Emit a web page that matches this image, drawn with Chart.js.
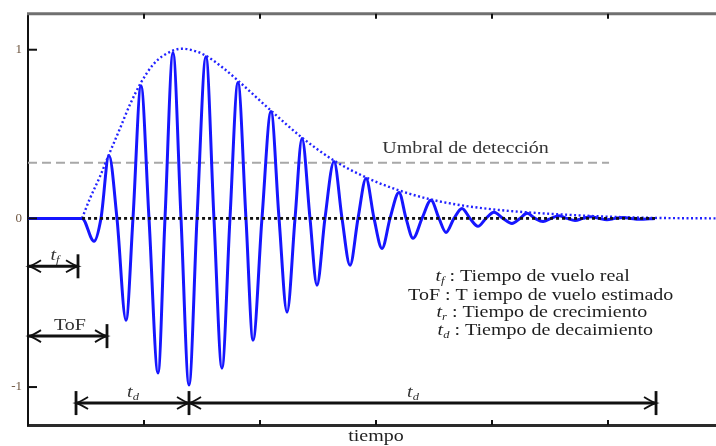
<!DOCTYPE html>
<html>
<head>
<meta charset="utf-8">
<script src="https://cdn.jsdelivr.net/npm/chart.js@4.4.1/dist/chart.umd.min.js"></script>
<style>
html, body { margin: 0; padding: 0; background: #fff; overflow: hidden; }
#wrap { width: 716px; height: 446px; }
</style>
</head>
<body>
<div id="wrap"><canvas id="c" width="716" height="446"></canvas></div>
<script>
// tiempo en divisiones del eje x, amplitud normalizada
const signalX = [0, 0.466, 0.569, 0.629, 0.698, 0.767, 0.845, 0.905, 0.974, 1.043, 1.121, 1.181, 1.250, 1.319, 1.388, 1.457,
    1.534, 1.603, 1.672, 1.741, 1.810, 1.879, 1.940, 2.017, 2.095, 2.164, 2.233, 2.302, 2.362, 2.431, 2.491, 2.560,
    2.638, 2.707, 2.776, 2.845, 2.914, 2.983, 3.052, 3.121, 3.198, 3.259, 3.319, 3.397, 3.474, 3.543, 3.603, 3.672,
    3.741, 3.810, 3.879, 3.948, 4.017, 4.095, 4.172, 4.241, 4.302, 4.371, 4.440, 4.509, 4.578, 4.647, 4.716, 4.784,
    4.853, 4.922, 4.991, 5.060, 5.129, 5.198, 5.267, 5.405];
const signalY = [0, 0, -0.136, 0, 0.373, 0, -0.604, 0, 0.787, 0, -0.917, 0, 0.982, 0, -0.988, 0,
    0.959, 0, -0.888, 0, 0.805, 0, -0.722, 0, 0.633, 0, -0.556, 0, 0.473, 0, -0.396, 0,
    0.337, 0, -0.278, 0, 0.237, 0, -0.178, 0, 0.154, 0, -0.118, 0, 0.107, 0, -0.083, 0,
    0.059, 0, -0.047, 0, 0.036, 0, -0.030, 0, 0.030, 0, -0.018, 0, 0.015, 0, -0.012, 0,
    0.010, 0, -0.008, 0, 0.006, 0, -0.005, 0];

const envelopeX = [0.466, 0.534, 0.621, 0.698, 0.793, 0.879, 0.974, 1.078, 1.164, 1.328, 1.457, 1.534, 1.681, 1.810,
    2.095, 2.362, 2.638, 2.914, 3.198, 3.474, 3.741, 4.017, 4.302, 4.586, 4.931, 5.388, 5.931];
const envelopeY = [0, 0.118, 0.249, 0.379, 0.533, 0.675, 0.805, 0.911, 0.964, 1.006, 0.988, 0.964, 0.893, 0.817,
    0.639, 0.479, 0.343, 0.243, 0.166, 0.112, 0.077, 0.053, 0.036, 0.024, 0.012, 0.003, 0];

const zeroLineX = [0.466, 5.405];
const zeroLineY = [0, 0];
const thresholdX = [0, 5.009];
const thresholdY = [0.33, 0.33];

const xTickValues = [1, 2, 3, 4, 5];
const yTickValues = [-1, 0, 1];

const pairs = (xs, ys) => xs.map((v, i) => ({ x: v, y: ys[i] }));

// cotas y textos, en coordenadas de datos
const dims = [
    { sub: 'f', from: 0, to: 0.431, at: -0.284, bars: [0.431], labelX: 0.233 },
    { text: 'ToF', from: 0, to: 0.681, at: -0.698, bars: [0.681], labelX: 0.362 },
    { sub: 'd', from: 0.414, to: 1.388, at: -1.095, bars: [0.414, 1.388], labelX: 0.905 },
    { sub: 'd', from: 1.388, to: 5.414, at: -1.095, bars: [5.414], labelX: 3.319 }
];
const legendLines = [
    { sub: 'f', rest: ' : Tiempo de vuelo real', x: 4.35, y: -0.349 },
    { text: 'ToF : T iempo de vuelo estimado', x: 4.42, y: -0.456 },
    { sub: 'r', rest: ' : Tiempo de crecimiento', x: 4.43, y: -0.562 },
    { sub: 'd', rest: ' : Tiempo de decaimiento', x: 4.46, y: -0.669 }
];

const SERIF = '"Liberation Serif", "Times New Roman", serif';
const STRETCH = 1.25;

function drawRuns(ctx, runs, cx, cy, color) {
    let w = 0;
    runs.forEach(r => { ctx.font = r.font; r.w = ctx.measureText(r.text).width; w += r.w; });
    ctx.save();
    ctx.translate(cx, cy);
    ctx.scale(STRETCH, 1);
    ctx.fillStyle = color;
    ctx.textBaseline = 'middle';
    ctx.textAlign = 'left';
    let xx = -w / 2;
    runs.forEach(r => { ctx.font = r.font; ctx.fillText(r.text, xx, r.dy || 0); xx += r.w; });
    ctx.restore();
}

function symbolRuns(sub) {
    return [
        { text: 't', font: 'italic 16px ' + SERIF },
        { text: sub, font: 'italic 10px ' + SERIF, dy: 4 }
    ];
}

function arrowHead(ctx, xp, yp, dir) {
    ctx.beginPath();
    ctx.moveTo(xp - dir * 12, yp - 6);
    ctx.quadraticCurveTo(xp - dir * 4, yp - 1, xp, yp);
    ctx.quadraticCurveTo(xp - dir * 4, yp + 1, xp - dir * 12, yp + 6);
    ctx.stroke();
}

const annotate = {
    id: 'annotate',
    afterDatasetsDraw(chart) {
        const { ctx, chartArea: a, scales: { x, y } } = chart;
        ctx.save();
        ctx.strokeStyle = '#111';
        ctx.lineCap = 'butt';

        dims.forEach(d => {
            const x1 = Math.max(x.getPixelForValue(d.from), a.left + 1);
            const x2 = x.getPixelForValue(d.to);
            const yp = y.getPixelForValue(d.at);
            ctx.lineWidth = 3;
            ctx.beginPath();
            ctx.moveTo(x1, yp);
            ctx.lineTo(x2, yp);
            ctx.stroke();
            ctx.lineWidth = 1.8;
            arrowHead(ctx, x1, yp, -1);
            arrowHead(ctx, x2, yp, 1);
            ctx.lineWidth = 2.8;
            d.bars.forEach(b => {
                const bp = x.getPixelForValue(b);
                ctx.beginPath();
                ctx.moveTo(bp, yp - 12);
                ctx.lineTo(bp, yp + 12);
                ctx.stroke();
            });
            const runs = d.text ? [{ text: d.text, font: '16px ' + SERIF }] : symbolRuns(d.sub);
            drawRuns(ctx, runs, x.getPixelForValue(d.labelX), yp - 10, '#333');
        });

        const thr = y.getPixelForValue(thresholdY[0]);
        drawRuns(ctx, [{ text: 'Umbral de detección', font: '16px ' + SERIF }], x.getPixelForValue(3.772), thr - 14, '#333');

        legendLines.forEach(l => {
            const runs = l.text ? [{ text: l.text, font: '16px ' + SERIF }]
                : symbolRuns(l.sub).concat([{ text: l.rest, font: '16px ' + SERIF }]);
            drawRuns(ctx, runs, x.getPixelForValue(l.x), y.getPixelForValue(l.y), '#1e1e1e');
        });

        drawRuns(ctx, [{ text: 'tiempo', font: '16px ' + SERIF }], x.getPixelForValue(3.0), a.bottom + 12, '#1e1e1e');
        ctx.restore();
    },
    afterDraw(chart) {
        const { ctx, chartArea: a, scales: { x, y } } = chart;
        ctx.save();
        // borde superior
        ctx.strokeStyle = '#707070';
        ctx.lineWidth = 3;
        ctx.beginPath();
        ctx.moveTo(a.left - 1, a.top);
        ctx.lineTo(a.right, a.top);
        ctx.stroke();
        // marcas hacia dentro
        ctx.strokeStyle = '#111';
        ctx.lineWidth = 2;
        x.ticks.forEach(t => {
            const p = x.getPixelForValue(t.value);
            ctx.beginPath();
            ctx.moveTo(p, a.bottom);
            ctx.lineTo(p, a.bottom - 5);
            ctx.moveTo(p, a.top);
            ctx.lineTo(p, a.top + 5);
            ctx.stroke();
        });
        y.ticks.forEach(t => {
            const p = y.getPixelForValue(t.value);
            ctx.beginPath();
            ctx.moveTo(a.left, p);
            ctx.lineTo(a.left + 9, p);
            ctx.stroke();
        });
        ctx.restore();
    }
};

new Chart(document.getElementById('c'), {
    type: 'line',
    data: {
        datasets: [
            {
                label: 'señal',
                data: pairs(signalX, signalY),
                borderColor: '#1616ff',
                borderWidth: 3,
                pointRadius: 0,
                cubicInterpolationMode: 'monotone',
                order: 3
            },
            {
                label: 'envolvente',
                data: pairs(envelopeX, envelopeY),
                borderColor: '#2222ff',
                borderWidth: 2.4,
                borderDash: [2, 2.5],
                pointRadius: 0,
                cubicInterpolationMode: 'monotone',
                order: 2
            },
            {
                label: 'umbral',
                data: pairs(thresholdX, thresholdY),
                borderColor: '#a8a8a8',
                borderWidth: 1.8,
                borderDash: [9, 5],
                pointRadius: 0,
                order: 4
            },
            {
                label: 'cero',
                data: pairs(zeroLineX, zeroLineY),
                borderColor: '#111',
                borderWidth: 2.8,
                borderDash: [3, 3],
                pointRadius: 0,
                order: 1
            }
        ]
    },
    options: {
        responsive: false,
        animation: false,
        devicePixelRatio: 1,
        layout: { padding: { top: 13, right: 0, bottom: 0, left: 0 } },
        plugins: { legend: { display: false }, tooltip: { enabled: false } },
        scales: {
            x: {
                type: 'linear',
                min: 0,
                max: 5.931,
                grid: { display: false, drawTicks: false },
                border: { display: true, color: '#2a2a2a', width: 3 },
                ticks: { display: false },
                afterBuildTicks: s => { s.ticks = xTickValues.map(v => ({ value: v })); },
                afterFit: s => { s.height = 21; }
            },
            y: {
                type: 'linear',
                min: -1.225,
                max: 1.213,
                grid: { display: false, drawTicks: false },
                border: { display: true, color: '#111', width: 2 },
                ticks: { font: { family: SERIF, size: 13 }, color: '#6e5640', padding: 6 },
                afterBuildTicks: s => { s.ticks = yTickValues.map(v => ({ value: v })); },
                afterFit: s => { s.width = 28; }
            }
        }
    },
    plugins: [annotate]
});
</script>
</body>
</html>
